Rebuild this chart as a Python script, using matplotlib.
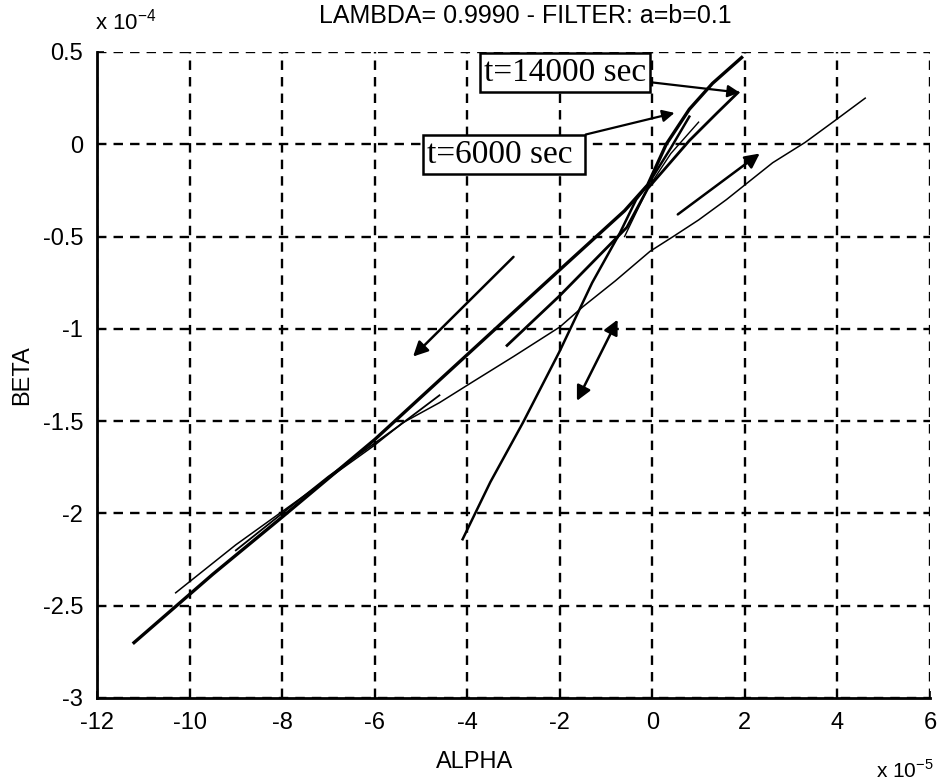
import matplotlib
matplotlib.use('Agg')
import matplotlib.pyplot as plt
import numpy as np

# values in units of 1e-5 (alpha) and 1e-4 (beta)
alpha_a = [-11.2, -9.5, -8.0, -6.0, -4.0, -2.0, -0.6, -0.1, 0.3, 0.8, 1.3, 1.93]
beta_a = [-2.70, -2.33, -2.02, -1.60, -1.14, -0.68, -0.36, -0.22, 0.0, 0.19, 0.33, 0.47]

alpha_b = [-10.3, -9.0, -8.0, -7.0, -6.0, -5.4, -4.6, -3.9, -3.0, -2.0, -1.5, -0.8, -0.05, 0.45, 1.0, 1.6, 2.6, 3.3, 3.9, 4.6]
beta_b = [-2.43, -2.17, -1.99, -1.81, -1.63, -1.51, -1.40, -1.29, -1.15, -0.99, -0.88, -0.74, -0.58, -0.50, -0.41, -0.30, -0.10, 0.01, 0.12, 0.25]

alpha_c = [-4.1, -3.5, -2.8, -2.0, -1.3, -0.7, -0.35, -0.1, 0.4, 0.8]
beta_c = [-2.14, -1.83, -1.51, -1.12, -0.75, -0.48, -0.30, -0.22, -0.02, 0.15]

alpha_d = [-4.6, -5.5, -7.0, -8.0, -9.0]
beta_d = [-1.36, -1.53, -1.80, -2.00, -2.20]

alpha_e = [-3.14, -2.0, -0.55, -0.1, 0.8, 1.4, 1.85]
beta_e = [-1.09, -0.82, -0.45, -0.24, 0.02, 0.17, 0.28]

alpha_f = [-0.6, -0.1, 0.4, 1.0]
beta_f = [-0.50, -0.24, -0.05, 0.12]

# direction arrows (tail, head)
dir_tail = [(-3.0, -0.61), (0.55, -0.38)]
dir_head = [(-5.17, -1.15), (2.32, -0.05)]
dbl_ends = [(-1.63, -1.39), (-0.75, -0.95)]

xticks = [-12, -10, -8, -6, -4, -2, 0, 2, 4, 6]
yticks = [-3, -2.5, -2, -1.5, -1, -0.5, 0, 0.5]
ytick_labels = ['-3', '-2.5', '-2', '-1.5', '-1', '-0.5', '0', '0.5']

plt.rcParams['font.family'] = ['Liberation Sans', 'DejaVu Sans']

fig = plt.figure(figsize=(9.39, 7.82), dpi=100)
ax = fig.add_axes([97/939, 1-698/782, 833/939, 646/782])

ax.set_xlim(-12, 6)
ax.set_ylim(-3, 0.5)
ax.set_xticks(xticks)
ax.set_xticklabels([str(t) for t in xticks])
ax.set_yticks(yticks)
ax.set_yticklabels(ytick_labels)
ax.tick_params(direction='in', length=5, width=1.2, labelsize=17, pad=10)

ax.spines['top'].set_visible(False)
ax.spines['right'].set_visible(False)
ax.spines['left'].set_linewidth(2)
ax.spines['bottom'].set_linewidth(2)
ax.grid(True, color='k', linestyle=(0, (4, 3)), linewidth=1.7)
ax.set_axisbelow(True)

#trajectories
ax.plot(alpha_a, beta_a, color='k', lw=2.4)
ax.plot(alpha_b, beta_b, color='k', lw=1.1)
ax.plot(alpha_c, beta_c, color='k', lw=1.8)
ax.plot(alpha_d, beta_d, color='k', lw=1.3)
ax.plot(alpha_e, beta_e, color='k', lw=2.0)
ax.plot(alpha_f, beta_f, color='k', lw=1.0)

for t, h in zip(dir_tail, dir_head):
    ax.annotate('', xy=h, xytext=t,
                arrowprops=dict(arrowstyle='-|>', lw=1.8, color='k', mutation_scale=22,
                                shrinkA=0, shrinkB=0))
ax.annotate('', xy=dbl_ends[1], xytext=dbl_ends[0],
            arrowprops=dict(arrowstyle='<|-|>', lw=1.8, color='k', mutation_scale=22,
                            shrinkA=0, shrinkB=0))

# labelled boxes
box = dict(boxstyle='square,pad=0.12', fc='white', ec='k', lw=1.8)
ax.annotate('t=14000 sec', xy=(1.89, 0.28), xytext=(-1.89, 0.39), ha='center', va='center',
            fontfamily='Liberation Serif', fontsize=24, bbox=box,
            arrowprops=dict(arrowstyle='-|>', lw=1.6, color='k', mutation_scale=18,
                            shrinkA=0, shrinkB=0))
ax.annotate('t=6000 sec ', xy=(0.48, 0.17), xytext=(-3.21, -0.055), ha='center', va='center',
            fontfamily='Liberation Serif', fontsize=24, bbox=box,
            arrowprops=dict(arrowstyle='-|>', lw=1.6, color='k', mutation_scale=18,
                            shrinkA=0, shrinkB=0))

fig.text(525/939, 1-16/782, 'LAMBDA= 0.9990 - FILTER: a=b=0.1', ha='center', va='center', fontsize=18)
fig.text(475/939, 1-762/782, 'ALPHA', ha='center', va='center', fontsize=17)
fig.text(22/939, 1-375/782, 'BETA', ha='center', va='center', rotation=90, fontsize=17)
fig.text(95/939, 1-22/782, r'x 10$^{\mathregular{-4}}$', ha='left', va='center', fontsize=16)
fig.text(934/939, 1-770/782, r'x 10$^{\mathregular{-5}}$', ha='right', va='center', fontsize=15)

fig.savefig('out.png', dpi=100)
